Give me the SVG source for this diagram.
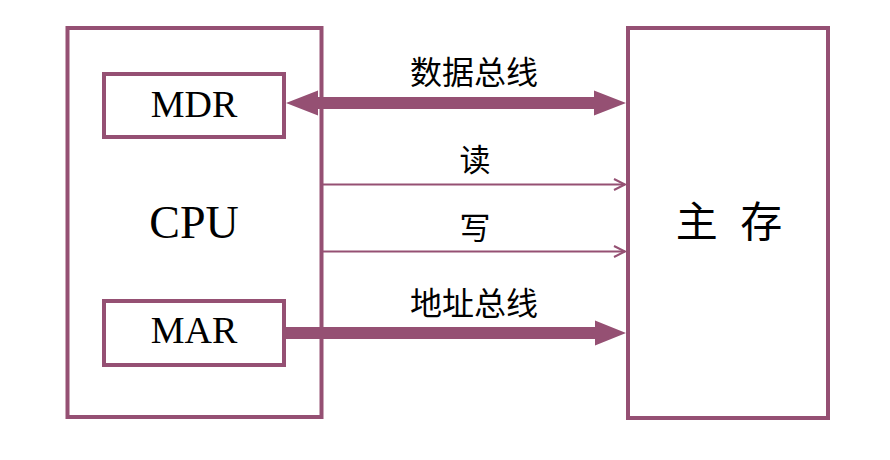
<svg xmlns="http://www.w3.org/2000/svg" width="890" height="460" viewBox="0 0 890 460">
  <style>
    .box { fill: #ffffff; stroke: #955073; stroke-width: 4; }
    .lat { font-family: "Liberation Serif", "Times New Roman", serif; fill: #000; text-anchor: middle; }
    .cjk { font-family: "Liberation Serif", "Noto Sans CJK SC", serif; fill: #000; text-anchor: middle; }
    .thin { stroke: #955073; stroke-width: 2; fill: none; }
    .bar { fill: #955073; stroke: none; }
  </style>
  <rect width="890" height="460" fill="#ffffff"/>
  <g id="cpu">
    <rect class="box" x="67.5" y="28" width="254" height="389"/>
    <text class="lat" x="194" y="238" font-size="46">CPU</text>
  </g>
  <g id="mdr">
    <rect class="box" x="104" y="74" width="180" height="63"/>
    <text class="lat" x="194" y="117" font-size="38">MDR</text>
  </g>
  <g id="mar">
    <rect class="box" x="104" y="301" width="180" height="64"/>
    <text class="lat" x="194" y="343" font-size="38">MAR</text>
  </g>
  <g id="memory">
    <rect class="box" x="628" y="28" width="200" height="390"/>
    <text class="cjk" x="729" y="237" font-size="42" word-spacing="12">主 存</text>
  </g>
  <g id="connectors">
    <polygon class="bar" points="286,103 318,90.5 318,97 594,97 594,90.5 626,103 594,115.5 594,109 318,109 318,115.5"/>
    <text class="cjk" x="474" y="84" font-size="32">数据总线</text>
    <line class="thin" x1="322" y1="184.5" x2="625" y2="184.5"/>
    <polyline class="thin" points="614,179 625,184.5 614,190"/>
    <text class="cjk" x="475" y="171" font-size="31">读</text>
    <line class="thin" x1="322" y1="251.5" x2="625" y2="251.5"/>
    <polyline class="thin" points="614,246 625,251.5 614,257"/>
    <text class="cjk" x="475" y="239" font-size="31">写</text>
    <polygon class="bar" points="286,327 595,327 595,320.5 626,333 595,345.5 595,339 286,339"/>
    <text class="cjk" x="474" y="315" font-size="32">地址总线</text>
  </g>
</svg>
